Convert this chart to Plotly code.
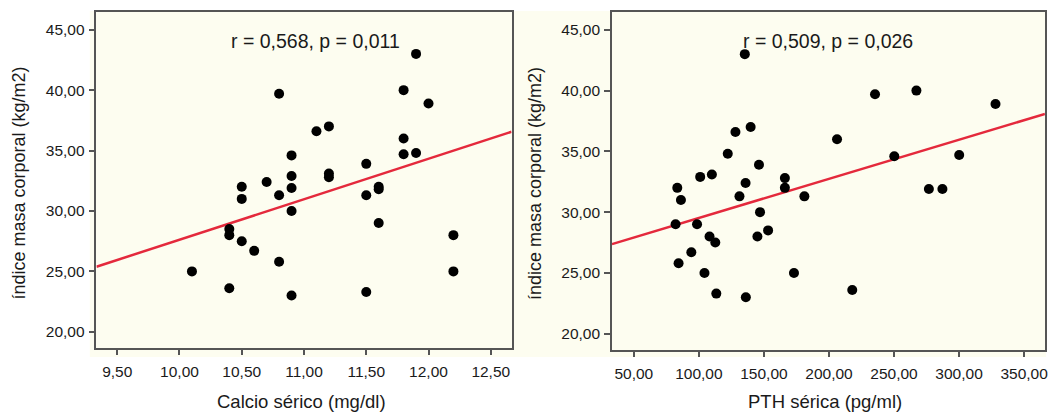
import plotly.graph_objects as go

# ---- data ----
calcio = [11.9, 10.8, 11.8, 12.0, 11.1, 11.2, 11.8, 11.8, 11.9, 10.9, 10.9, 10.9,
          11.5, 11.2, 11.2, 10.7, 10.8, 10.5, 10.5, 11.5, 11.6, 11.6, 10.9, 10.4,
          10.4, 10.5, 10.6, 10.8, 10.1, 10.4, 10.9, 11.5, 11.6, 12.2, 12.2]
imc_calcio = [43.0, 39.7, 40.0, 38.9, 36.6, 37.0, 36.0, 34.7, 34.8, 34.6, 32.9, 31.9,
              33.9, 33.1, 32.8, 32.4, 31.3, 32.0, 31.0, 31.3, 32.0, 31.8, 30.0, 28.5,
              28.0, 27.5, 26.7, 25.8, 25.0, 23.6, 23.0, 23.3, 29.0, 28.0, 25.0]

pth = [135.3, 235.4, 267.2, 328.0, 128.1, 139.8, 206.2, 122.2, 250.2, 300.1, 146.2, 101.0,
       110.0, 135.9, 166.1, 166.1, 83.4, 131.2, 181.1, 276.8, 287.2, 86.2, 147.0, 82.1,
       98.6, 108.2, 112.6, 145.0, 153.2, 94.2, 84.4, 104.3, 113.4, 136.1, 173.1, 217.9]
imc_pth = [43.0, 39.7, 40.0, 38.9, 36.6, 37.0, 36.0, 34.8, 34.6, 34.7, 33.9, 32.9,
           33.1, 32.4, 32.8, 32.0, 32.0, 31.3, 31.3, 31.9, 31.9, 31.0, 30.0, 29.0,
           29.0, 28.0, 27.5, 28.0, 28.5, 26.7, 25.8, 25.0, 23.3, 23.0, 25.0, 23.6]

# fitted lines as drawn in the reference (intercept, slope)
fit_calcio = (-5.88, 3.35)
fit_pth = (26.30, 0.03218)

stats_calcio = "r = 0,568, p = 0,011"
stats_pth = "r = 0,509, p = 0,026"

y_ticks = [20, 25, 30, 35, 40, 45]
y_ticktext = ["20,00", "25,00", "30,00", "35,00", "40,00", "45,00"]
x1_ticks = [9.5, 10.0, 10.5, 11.0, 11.5, 12.0, 12.5]
x1_ticktext = ["9,50", "10,00", "10,50", "11,00", "11,50", "12,00", "12,50"]
x2_ticks = [50, 100, 150, 200, 250, 300, 350]
x2_ticktext = ["50,00", "100,00", "150,00", "200,00", "250,00", "300,00", "350,00"]

x1_range = [9.333, 12.667]
x2_range = [33.2, 366.0]
y_range = [18.7, 46.45]

# ---- styling ----
OFF = 8  # default page body margin
W, H = 1059 - OFF, 412 - OFF
CREAM = "#FDFDF0"
AXC = "#555555"
FONT = "Liberation Sans, Arial, Helvetica, sans-serif"
TXT = "#1a1a1a"
RED = "#E4293C"


def px(x):
    return (x - OFF) / W


def py(y):
    return 1 - (y - OFF) / H


fig = go.Figure()


def line_pts(rng, fit):
    b0, b1 = fit
    xs = list(rng)
    return xs, [b0 + b1 * x for x in xs]


lx, ly = line_pts(x1_range, fit_calcio)
fig.add_trace(go.Scatter(x=lx, y=ly, mode="lines", line=dict(color=RED, width=2.5),
                         xaxis="x", yaxis="y", hoverinfo="skip", showlegend=False))
fig.add_trace(go.Scatter(x=calcio, y=imc_calcio, mode="markers",
                         marker=dict(color="black", size=10),
                         xaxis="x", yaxis="y", showlegend=False))

rx, ry = line_pts(x2_range, fit_pth)
fig.add_trace(go.Scatter(x=rx, y=ry, mode="lines", line=dict(color=RED, width=2.5),
                         xaxis="x2", yaxis="y2", hoverinfo="skip", showlegend=False))
fig.add_trace(go.Scatter(x=pth, y=imc_pth, mode="markers",
                         marker=dict(color="black", size=10),
                         xaxis="x2", yaxis="y2", showlegend=False))

common = dict(showgrid=False, zeroline=False, showline=True, linecolor=AXC, linewidth=1.5,
              mirror=True, ticks="outside", ticklen=6, tickwidth=1.5, tickcolor=AXC,
              tickfont=dict(family=FONT, size=15.5, color=TXT))

fig.update_layout(
    width=W, height=H,
    margin=dict(l=0, r=0, t=0, b=0),
    paper_bgcolor="white",
    plot_bgcolor=CREAM,
    xaxis=dict(domain=[px(96.7), px(513)], range=x1_range, tickvals=x1_ticks,
               ticktext=x1_ticktext, anchor="y", ticklabelstandoff=3, **common),
    yaxis=dict(domain=[py(347.5), py(12.2)], range=y_range, tickvals=y_ticks,
               ticktext=y_ticktext, anchor="x", ticklabelstandoff=1, **common),
    xaxis2=dict(domain=[px(613.7), px(1047.9)], range=x2_range, tickvals=x2_ticks,
                ticktext=x2_ticktext, anchor="y2", ticklabelstandoff=3, **common),
    yaxis2=dict(domain=[py(349.5), py(12.2)], range=y_range, tickvals=y_ticks,
                ticktext=y_ticktext, anchor="x2", ticklabelstandoff=1, **common),
    shapes=[dict(type="rect", xref="paper", yref="paper", layer="below",
                 x0=px(90), x1=px(1049), y0=py(357), y1=py(11),
                 fillcolor=CREAM, line=dict(width=0))],
    annotations=[
        dict(text=stats_calcio, x=11.09, y=44.1, xref="x", yref="y", showarrow=False,
             xanchor="center", yanchor="middle",
             font=dict(family=FONT, size=19.5, color=TXT)),
        dict(text=stats_pth, x=199.5, y=44.1, xref="x2", yref="y2", showarrow=False,
             xanchor="center", yanchor="middle",
             font=dict(family=FONT, size=19.5, color=TXT)),
        dict(text="Calcio sérico (mg/dl)", x=px(302.5), y=py(401.5), xref="paper",
             yref="paper", showarrow=False, xanchor="center", yanchor="middle",
             font=dict(family=FONT, size=18.5, color=TXT)),
        dict(text="PTH sérica (pg/ml)", x=px(827), y=py(401.5), xref="paper",
             yref="paper", showarrow=False, xanchor="center", yanchor="middle",
             font=dict(family=FONT, size=18.5, color=TXT)),
        dict(text="índice masa corporal (kg/m2)", x=px(18.6), y=py(183), xref="paper",
             yref="paper", showarrow=False, textangle=-90, xanchor="center",
             yanchor="middle", font=dict(family=FONT, size=18, color=TXT)),
        dict(text="índice masa corporal (kg/m2)", x=px(536), y=py(183.5), xref="paper",
             yref="paper", showarrow=False, textangle=-90, xanchor="center",
             yanchor="middle", font=dict(family=FONT, size=18, color=TXT)),
    ],
)

fig.write_html("out.html")
